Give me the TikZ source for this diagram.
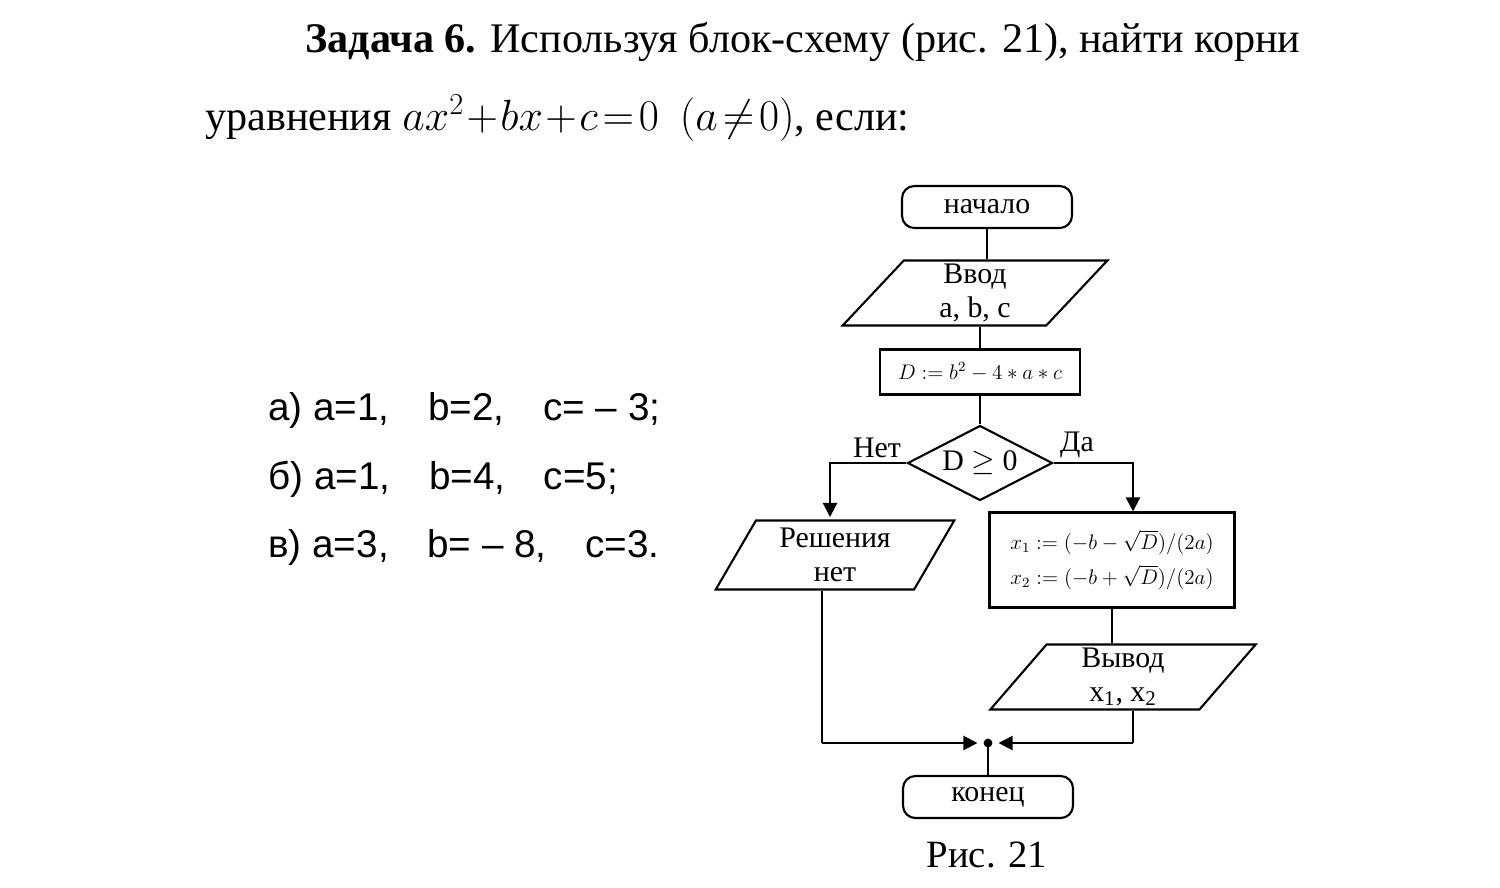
\documentclass[tikz,border=0pt]{standalone}
\usepackage{fontspec}
\setmainfont{Liberation Serif}
\newfontfamily\listfont{Liberation Sans}
\usetikzlibrary{shapes.geometric, arrows.meta}
\begin{document}
\begin{tikzpicture}[x=0.02cm, y=-0.02cm,
    blk/.style={draw, line width=1.2pt, font=\fontsize{17}{19}\selectfont, align=center, inner sep=0pt},
    term/.style={blk, rounded corners=7pt, minimum width=3.4cm, minimum height=0.84cm},
    io/.style={blk, trapezium, trapezium left angle=62, trapezium right angle=118, trapezium stretches=true},
    proc/.style={blk, rectangle},
    lnk/.style={line width=1.2pt},
    tip/.style={-{Triangle[length=8pt, width=8pt]}},
    txt/.style={inner sep=0pt, anchor=base west}]
  \useasboundingbox (0,0) rectangle (1500,887);

  % task text
  \node[txt, font=\fontsize{24}{30}\selectfont] (head) at (305,52)
    {\textbf{Задача 6.} Используя блок-схему (рис. 21), найти корни};
  \node[txt, font=\fontsize{24}{30}\selectfont] (eq) at (205,130)
    {уравнения $ax^2\!+\!bx\!+\!c\!=\!0$ \ $(a\!\neq\! 0)$, если:};
  \node[txt, font=\listfont\fontsize{22}{28}\selectfont] (va) at (268,420) {а) a=1,\quad b=2,\quad c= – 3;};
  \node[txt, font=\listfont\fontsize{22}{28}\selectfont] (vb) at (268,489) {б) a=1,\quad b=4,\quad c=5;};
  \node[txt, font=\listfont\fontsize{22}{28}\selectfont] (vc) at (268,557) {в) a=3,\quad b= – 8,\quad c=3.};

  % flowchart
  \node[term] (start) at (987,207) {начало};
  \node[io, minimum width=5.32cm, minimum height=1.3cm] (inp) at (975,293) {Ввод\\a, b, c};
  \node[proc, minimum width=4cm, minimum height=0.9cm, font=\fontsize{12}{14}\selectfont] (disc) at (980,372) {$D:=b^2-4*a*c$};
  \node[blk, diamond, aspect=1.95, minimum width=2.9cm, minimum height=1.5cm] (cond) at (980,463) {D $\geq$ 0};
  \node[io, minimum width=4.8cm, minimum height=1.38cm] (none) at (835,555) {Решения\\нет};
  \node[proc, minimum width=4.9cm, minimum height=1.9cm, font=\fontsize{12}{20}\selectfont] (roots) at (1112,560)
    {$x_1:=(-b-\sqrt{D})/(2a)$\\$x_2:=(-b+\sqrt{D})/(2a)$};
  \node[io, minimum width=5.34cm, minimum height=1.3cm] (outp) at (1123,677) {Вывод\\$\mathrm{x_1}$, $\mathrm{x_2}$};
  \node[term] (stop) at (988,797) {конец};
  \node[font=\fontsize{22}{26}\selectfont] (cap) at (987,855) {Рис. 21};

  \coordinate (join) at (988,743);
  \coordinate (jl) at (822,743);
  \coordinate (jr) at (1133,743);

  \draw[lnk] (start.south) -- (start.south |- inp.north);
  \draw[lnk] (disc.north) -- (disc.north |- inp.south);
  \draw[lnk] (disc.south) -- (cond.north);
  \draw[lnk, tip] (cond.west) -| (830,517);
  \draw[lnk, tip] (cond.east) -| (roots.north -| 1133,0);
  \draw[lnk] (roots) -- (roots.south |- outp.north);
  \draw[lnk] (none.south -| 822,0) -- (jl);
  \draw[lnk, tip] (jl) -- ([xshift=-6pt]join);
  \draw[lnk] (outp.south -| 1133,0) -- (jr);
  \draw[lnk, tip] (jr) -- ([xshift=6pt]join);
  \draw[lnk] (join) -- (stop);
  \fill (join) circle (2.5pt);

  \node[font=\fontsize{17}{19}\selectfont] (no) at (877,448) {Нет};
  \node[font=\fontsize{17}{19}\selectfont] (yes) at (1077,445) {Да};
\end{tikzpicture}
\end{document}
